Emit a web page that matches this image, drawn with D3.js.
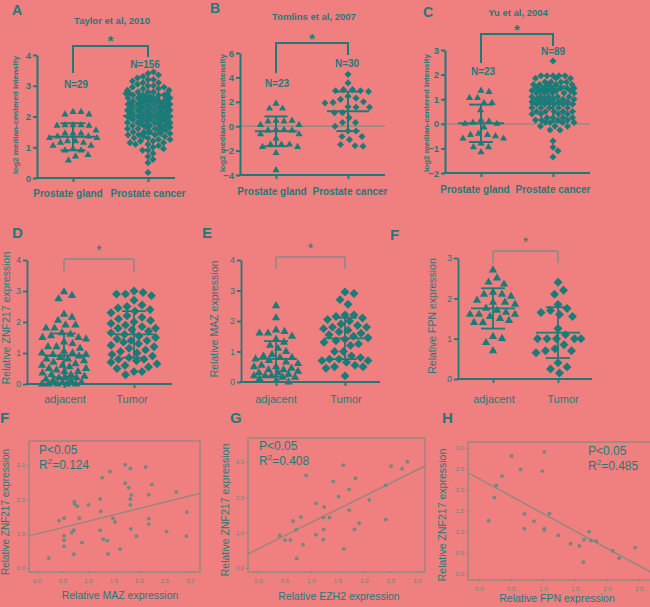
<!DOCTYPE html>
<html><head><meta charset="utf-8">
<script src="https://cdn.jsdelivr.net/npm/d3@7"></script>
<style>
body{margin:0;background:#f08080;}
svg{display:block;font-family:"Liberation Sans",Arial,Helvetica,sans-serif;}
</style>
</head><body>
<svg width="650" height="607"></svg>
<script>
// ================= DATA =================
const catsAC = ['Prostate gland', 'Prostate cancer'];
const catsDF = ['adjacent', 'Tumor'];

// A: Taylor et al, 2010
const taylorGland = [2.15,2.15,2.07,2.07,1.72,1.72,1.72,1.70,1.70,1.55,1.45,1.45,1.45,1.35,1.35,1.30,1.30,1.20,1.20,1.15,1.15,1.05,1.05,0.95,0.90,0.90,0.75,0.70,0.57];
const taylorCancer = [3.40,3.45,3.30,3.35,3.20,3.20,3.25,3.10,3.10,3.15,3.00,3.00,3.05,2.90,2.90,2.95,2.95,
  2.80,2.80,2.80,2.85,2.85,2.70,2.70,2.70,2.70,2.75,2.75,2.75,
  2.60,2.60,2.60,2.60,2.60,2.65,2.65,2.65,2.65,2.50,2.50,2.50,2.50,2.50,2.55,2.55,2.55,2.55,
  2.40,2.40,2.40,2.40,2.40,2.45,2.45,2.45,2.45,2.30,2.30,2.30,2.30,2.30,2.35,2.35,2.35,2.35,
  2.20,2.20,2.20,2.20,2.20,2.25,2.25,2.25,2.25,2.10,2.10,2.10,2.10,2.10,2.15,2.15,2.15,2.15,
  2.00,2.00,2.00,2.00,2.00,2.05,2.05,2.05,2.05,1.90,1.90,1.90,1.90,1.90,1.95,1.95,1.95,1.95,
  1.80,1.80,1.80,1.80,1.85,1.85,1.85,1.85,1.70,1.70,1.70,1.70,1.75,1.75,1.75,1.75,
  1.60,1.60,1.60,1.65,1.65,1.65,1.50,1.50,1.50,1.55,1.55,1.55,1.40,1.40,1.40,1.45,1.45,
  1.30,1.30,1.35,1.35,1.20,1.20,1.25,1.25,1.10,1.10,1.15,1.15,1.00,1.05,0.90,0.90,0.95,
  0.80,0.70,0.60,0.50,0.18];
const taylorMean = [1.34, 2.02];
const taylorSD = [0.44, 0.58];
const taylorN = ['N=29', 'N=156'];

// B: Tomlins et al, 2007
const tomlinsGland = [1.85,1.45,1.45,0.45,0.40,0.40,0.45,0.10,0.10,-0.30,-0.30,-0.35,-0.35,-0.65,-0.65,-1.00,-1.50,-1.50,-1.50,-1.70,-1.70,-2.20,-3.60];
const tomlinsCancer = [4.25,3.55,3.00,3.00,2.90,2.90,2.85,2.45,2.30,2.20,2.00,1.95,1.90,1.60,1.55,1.55,1.10,1.10,0.70,0.30,0.30,0.00,-0.40,-0.40,-0.85,-0.85,-1.10,-1.50,-1.60,-1.65];
const tomlinsMean = [-0.42, 1.22];
const tomlinsSD = [1.22, 1.62];
const tomlinsN = ['N=23', 'N=30'];

// C: Yu et al, 2004
const yuGland = [1.35,1.30,1.05,1.05,0.85,0.85,0.55,0.15,0.10,0.05,0.00,0.00,-0.15,-0.40,-0.45,-0.45,-0.50,-0.60,-0.60,-0.80,-0.95,-0.95,-1.15];
const yuCancer = [2.55,1.95,1.95,1.95,1.95,1.95,1.85,1.85,1.85,1.70,1.70,1.70,1.70,1.60,1.60,1.60,1.60,1.60,
  1.45,1.45,1.45,1.45,1.45,1.45,1.35,1.35,1.35,1.35,1.35,1.25,1.25,1.25,1.25,1.25,1.10,1.10,1.10,1.10,1.10,
  1.00,1.00,1.00,1.00,1.00,0.90,0.90,0.90,0.90,0.90,0.80,0.80,0.80,0.80,0.80,0.65,0.65,0.65,0.65,0.65,
  0.50,0.50,0.50,0.50,0.50,0.40,0.40,0.40,0.40,0.25,0.25,0.25,0.25,0.15,0.15,0.15,0.15,0.05,0.05,0.05,0.05,
  -0.10,-0.10,-0.10,-0.25,-0.25,-0.70,-0.95,-1.10,-1.35];
const yuMean = [0.02, 0.80];
const yuSD = [0.76, 0.72];
const yuN = ['N=23', 'N=89'];

// D: ZNF217
const znfAdj = [2.97,2.85,2.75,2.25,2.15,2.05,1.90,1.90,1.80,1.80,1.65,1.60,1.55,1.50,1.50,1.45,1.35,1.30,1.20,1.20,
  1.15,1.05,1.00,1.00,0.95,0.95,0.90,0.85,0.80,0.80,0.75,0.70,0.65,0.60,0.60,0.55,0.50,0.50,0.45,0.40,
  0.40,0.35,0.30,0.30,0.25,0.20,0.20,0.20,0.15,0.10,0.10,0.05,0.05,0.00,0.00,0.00,0.00,0.00];
const znfTum = [3.00,2.95,2.90,2.90,2.85,2.70,2.55,2.50,2.45,2.40,2.35,2.30,2.20,2.15,2.10,2.05,2.00,1.95,1.90,1.85,
  1.80,1.80,1.75,1.70,1.65,1.60,1.55,1.50,1.45,1.40,1.40,1.35,1.30,1.25,1.20,1.15,1.10,1.05,1.00,0.95,
  0.90,0.85,0.80,0.80,0.75,0.70,0.65,0.60,0.55,0.50,0.40,0.40,0.30];
const znfMean = [0.92, 1.60];
const znfSD = [0.71, 0.75];

// E: MAZ
const mazAdj = [2.50,2.10,1.70,1.65,1.60,1.60,1.50,1.40,1.30,1.20,1.10,1.00,0.90,0.85,0.80,0.80,0.75,0.70,0.65,0.60,
  0.55,0.50,0.50,0.45,0.40,0.40,0.35,0.30,0.30,0.25,0.20,0.20,0.20,0.15,0.15,0.10,0.05,0.00];
const mazTum = [2.95,2.90,2.70,2.55,2.20,2.20,2.15,2.10,2.05,2.00,1.90,1.85,1.80,1.80,1.75,1.70,1.65,1.60,1.55,1.50,
  1.45,1.40,1.35,1.30,1.25,1.20,1.00,1.00,0.85,0.80,0.75,0.75,0.70,0.70,0.65,0.55,0.50,0.50,0.45,0.20];
const mazMean = [0.76, 1.43];
const mazSD = [0.58, 0.68];

// F: FPN
const fpnAdj = [2.70,2.50,2.40,2.35,2.15,2.10,2.10,2.05,1.95,1.90,1.90,1.85,1.75,1.70,1.65,1.60,1.60,1.60,1.55,1.50,1.45,1.40,1.40,1.05,1.00,0.90,0.70];
const fpnTum = [2.40,2.20,2.10,1.85,1.75,1.70,1.65,1.60,1.55,1.25,1.10,1.00,1.00,1.00,1.00,1.00,0.85,0.75,0.70,0.70,0.65,0.40,0.30,0.25,0.15];
const fpnMean = [1.75, 1.15];
const fpnSD = [0.50, 0.63];

// Scatter F: MAZ vs ZNF217
const sFx = [0.23,0.43,0.53,0.53,0.53,0.53,0.68,0.72,0.72,0.73,0.74,0.79,0.83,0.88,1.01,1.24,1.25,1.24,1.28,1.30,1.38,1.39,1.43,1.49,1.53,1.63,1.73,1.73,1.80,1.83,1.83,1.83,1.85,1.84,1.95,2.13,2.19,2.19,2.19,2.25,2.54,2.73,2.94,2.93];
const sFy = [0.29,1.38,1.45,0.94,0.81,0.63,1.03,1.10,0.40,1.93,1.86,1.80,1.45,0.74,1.84,2.01,1.65,1.10,2.63,0.84,0.80,0.41,2.81,1.45,1.34,0.55,3.01,2.47,2.34,2.90,2.01,1.84,2.13,1.14,0.93,2.94,2.13,1.44,1.28,2.43,1.06,2.22,1.63,0.93];
const regF = [0.99, 0.37];   // intercept, slope
// Scatter G: EZH2 vs ZNF217
const sGx = [0.41,0.51,0.61,0.66,0.72,0.73,0.81,0.85,0.91,1.09,1.09,1.23,1.23,1.24,1.25,1.35,1.42,1.52,1.61,1.62,1.72,1.72,1.82,1.84,1.91,2.10,2.41,2.41,2.51,2.72,2.82];
const sGy = [0.92,0.79,0.79,1.33,1.08,0.27,1.44,0.66,2.62,1.83,0.94,1.43,0.81,1.09,1.73,1.43,2.45,2.02,2.91,0.54,2.22,1.64,1.09,2.54,1.27,1.93,1.37,2.34,2.88,2.81,3.01];
const regG = [0.54, 0.745];
// Scatter H: FPN vs ZNF217
const sHx = [0.15,0.24,0.27,0.36,0.51,0.65,0.71,0.71,0.86,0.99,1.02,1.02,1.02,1.10,1.24,1.43,1.57,1.63,1.64,1.72,1.75,1.83,2.09,2.19,2.44];
const sHy = [1.27,1.82,2.11,2.33,2.81,2.49,1.43,1.08,1.26,2.45,2.91,1.08,1.05,1.44,0.92,0.72,0.67,0.28,0.82,1.01,0.80,0.78,0.55,0.38,0.63];
const regH = [2.27, -0.83];

const ticks0to4 = [0,1,2,3,4];
const ticksB = [-4,-2,0,2,4,6];
const ticksC = [-2,-1,0,1,2,3];
const ticks0to3 = [0,1,2,3];
const sTicks3 = [0,0.5,1,1.5,2,2.5,3];
const sTicks3int = [0,1,2,3];
const sTicks25 = [0,0.5,1,1.5,2,2.5];

// ================= DRAWING =================
const TEAL = '#1b7b79';
const DOTGRAY = '#70887f';
const LINEGRAY = '#828a80';
const svg = d3.select('svg');

const diamond = { draw(ctx, size) { const r = Math.sqrt(size / 2);
  ctx.moveTo(0, -r); ctx.lineTo(r, 0); ctx.lineTo(0, r); ctx.lineTo(-r, 0); ctx.closePath(); } };

function swarm(vals, y, cx, d, W) {
  const placed = [];
  const half = W / 2;
  const grid = [0];
  for (let s = 0.5; s <= half; s += 0.5) grid.push(s, -s);
  vals.forEach(v => {
    const py = y(v);
    const near = placed.filter(p => Math.abs(p.y - py) < d);
    let best = 0, bestScore = -1;
    for (const gx of grid) {
      let m = Infinity;
      for (const p of near) { const dd = Math.hypot(p.dx - gx, p.y - py); if (dd < m) m = dd; }
      if (m >= d) { best = gx; break; }
      if (m > bestScore + 1e-9) { bestScore = m; best = gx; }
    }
    placed.push({ v, dx: best, y: py });
  });
  return placed.map(p => ({ v: p.v, x: cx + p.dx, y: p.y }));
}

function dotPanel(o) {
  const g = svg.append('g');
  const y = d3.scaleLinear().domain(o.yDomain).range(o.yRange);
  const x = d3.scalePoint().domain(o.cats).range(o.catX);
  const yb = o.yRange[0];
  const bold = o.bold ? 'bold' : 'normal';

  if (o.zero) {
    g.append('line').attr('x1', o.axisL).attr('x2', o.axisR).attr('y1', y(0)).attr('y2', y(0))
      .attr('stroke', LINEGRAY).attr('stroke-width', 1.2);
  }
  const ya = d3.axisLeft(y).tickValues(o.yTicks).tickSize(o.tickLen).tickSizeOuter(0).tickPadding(2).tickFormat(d3.format('d'));
  const yg = g.append('g').attr('transform', `translate(${o.axisL},0)`).call(ya);
  yg.selectAll('path,line').attr('stroke', TEAL).attr('stroke-width', o.axisW);
  yg.selectAll('text').attr('fill', TEAL).attr('font-size', o.tickFont).attr('font-weight', bold).attr('font-family', null);

  g.append('line').attr('x1', o.axisL - o.axisW / 2).attr('x2', o.axisR).attr('y1', yb).attr('y2', yb)
    .attr('stroke', TEAL).attr('stroke-width', o.axisW);
  const xa = d3.axisBottom(x).tickSize(o.tickLen).tickFormat('');
  const xg = g.append('g').attr('transform', `translate(0,${yb})`).call(xa);
  xg.select('.domain').remove();
  xg.selectAll('line').attr('stroke', TEAL).attr('stroke-width', o.axisW);

  const syms = [d3.symbol(d3.symbolTriangle, o.triSize), d3.symbol(diamond, o.diaSize)];
  o.groups.forEach((vals, gi) => {
    const pts = swarm(vals, y, x(o.cats[gi]), o.collide[gi], o.swarmW[gi]);
    g.append('g').selectAll('path').data(pts).join('path')
      .attr('transform', d => `translate(${d.x},${d.y})`)
      .attr('d', syms[gi]).attr('fill', TEAL);
  });

  // mean +/- SD
  o.cats.forEach((c, gi) => {
    const cx = x(c), m = o.mean[gi], s = o.sd[gi];
    const sg = g.append('g').attr('stroke', TEAL).attr('stroke-width', o.barW);
    sg.append('line').attr('x1', cx - o.meanW / 2).attr('x2', cx + o.meanW / 2).attr('y1', y(m)).attr('y2', y(m));
    sg.append('line').attr('x1', cx).attr('x2', cx).attr('y1', y(m + s)).attr('y2', y(m - s));
    [m + s, m - s].forEach(v => sg.append('line').attr('x1', cx - o.capW / 2).attr('x2', cx + o.capW / 2).attr('y1', y(v)).attr('y2', y(v)));
  });

  // category labels
  o.cats.forEach((c, gi) => {
    g.append('text').attr('x', x(c) + o.labelDx[gi]).attr('y', o.labelY).attr('text-anchor', 'middle')
      .attr('fill', TEAL).attr('font-size', o.labelFont).attr('font-weight', bold).text(c);
  });
  // N labels
  if (o.nText) o.nText.forEach((t, gi) => {
    g.append('text').attr('x', x(o.cats[gi]) + o.nDx[gi]).attr('y', o.nY[gi]).attr('text-anchor', 'middle')
      .attr('fill', TEAL).attr('font-size', 10).attr('font-weight', 'bold').text(t);
  });
  // bracket
  const b = o.bracket;
  g.append('path').attr('d', `M${x(o.cats[0])},${b.l}V${b.top}H${x(o.cats[1])}V${b.r}`)
    .attr('fill', 'none').attr('stroke', b.color).attr('stroke-width', b.w);
  g.append('text').attr('x', (x(o.cats[0]) + x(o.cats[1])) / 2).attr('y', b.starY).attr('text-anchor', 'middle')
    .attr('fill', TEAL).attr('font-size', b.starSize).attr('font-weight', bold).text('*');
  // title
  if (o.title) g.append('text').attr('x', o.title.x).attr('y', o.title.y).attr('text-anchor', 'middle')
    .attr('fill', TEAL).attr('font-size', 9.5).attr('font-weight', 'bold').text(o.title.t);
  // letter
  g.append('text').attr('x', o.letter.x).attr('y', o.letter.y).attr('fill', TEAL)
    .attr('font-size', o.letter.s).attr('font-weight', 'bold').text(o.letter.t);
  // y title
  g.append('text').attr('transform', `translate(${o.yTitle.x},${o.yTitle.y}) rotate(-90)`).attr('text-anchor', 'middle')
    .attr('fill', TEAL).attr('font-size', o.yTitle.s).attr('font-weight', bold).text(o.yTitle.t);
}

const acBase = { bold: true, tickLen: 4, axisW: 2, tickFont: 9.5, labelFont: 10, triSize: 22, diaSize: 25, barW: 2 };
const dfBase = { bold: false, tickLen: 4, axisW: 1.8, tickFont: 9, labelFont: 11, triSize: 30, diaSize: 40, barW: 1.8, labelY: 403, labelDx: [0, 0] };

dotPanel(Object.assign({}, acBase, {
  cats: catsAC, groups: [taylorGland, taylorCancer], mean: taylorMean, sd: taylorSD,
  yDomain: [0, 4], yRange: [178, 55], yTicks: ticks0to4, axisL: 37, axisR: 175, catX: [73, 148],
  collide: [8, 5.5], swarmW: [48, 44], meanW: 50, capW: 25, labelY: 197, labelDx: [-5, 0],
  nText: taylorN, nY: [88, 68], nDx: [3, -3],
  bracket: { l: 73, top: 46, r: 57, color: TEAL, w: 2, starY: 46, starSize: 15 },
  title: { t: 'Taylor et al, 2010', x: 112, y: 24 }, letter: { t: 'A', x: 12, y: 15, s: 14 },
  yTitle: { t: 'log2 median-centered intensity', x: 18, y: 115, s: 8 }
}));
dotPanel(Object.assign({}, acBase, {
  cats: catsAC, groups: [tomlinsGland, tomlinsCancer], mean: tomlinsMean, sd: tomlinsSD, zero: true,
  yDomain: [-4, 6], yRange: [175, 53], yTicks: ticksB, axisL: 240, axisR: 385, catX: [276, 348],
  collide: [8, 8], swarmW: [46, 46], meanW: 42, capW: 23, labelY: 195, labelDx: [-4, 2],
  nText: tomlinsN, nY: [87, 67], nDx: [1, -1],
  bracket: { l: 73, top: 43, r: 55, color: TEAL, w: 2, starY: 44, starSize: 15 },
  title: { t: 'Tomlins et al, 2007', x: 314, y: 20 }, letter: { t: 'B', x: 210, y: 13, s: 14 },
  yTitle: { t: 'log2 median-centered intensity', x: 225, y: 113, s: 8 }
}));
dotPanel(Object.assign({}, acBase, {
  cats: catsAC, groups: [yuGland, yuCancer], mean: yuMean, sd: yuSD, zero: true,
  yDomain: [-2, 3], yRange: [173, 50], yTicks: ticksC, axisL: 445, axisR: 590, catX: [481, 553],
  collide: [8, 6], swarmW: [46, 42], meanW: 46, capW: 24, labelY: 193, labelDx: [-6, 0],
  nText: yuN, nY: [75, 55], nDx: [2, 0],
  bracket: { l: 63, top: 34, r: 46, color: TEAL, w: 2, starY: 35, starSize: 15 },
  title: { t: 'Yu et al, 2004', x: 518, y: 16 }, letter: { t: 'C', x: 423, y: 17, s: 14 },
  yTitle: { t: 'log2 median-centered intensity', x: 429, y: 113, s: 8 }
}));

dotPanel(Object.assign({}, dfBase, {
  cats: catsDF, groups: [znfAdj, znfTum], mean: znfMean, sd: znfSD,
  yDomain: [0, 4], yRange: [384, 260], yTicks: ticks0to4, axisL: 27, axisR: 172, catX: [64, 134],
  collide: [8.5, 9], swarmW: [44, 46], meanW: 40, capW: 24, labelDx: [1, -2],
  bracket: { l: 272, top: 259, r: 272, color: '#4f8f8a', w: 1, starY: 255, starSize: 14 },
  letter: { t: 'D', x: 12, y: 238, s: 15 },
  yTitle: { t: 'Relative ZNF217 expression', x: 10, y: 318, s: 10.5 }
}));
dotPanel(Object.assign({}, dfBase, {
  cats: catsDF, groups: [mazAdj, mazTum], mean: mazMean, sd: mazSD,
  yDomain: [0, 4], yRange: [382, 260], yTicks: ticks0to4, axisL: 241, axisR: 380, catX: [276, 345],
  collide: [8.5, 9], swarmW: [44, 46], meanW: 42, capW: 24, labelDx: [0, 1],
  bracket: { l: 269, top: 257, r: 269, color: '#4f8f8a', w: 1, starY: 253, starSize: 14 },
  letter: { t: 'E', x: 202, y: 238, s: 15 },
  yTitle: { t: 'Relative MAZ expression', x: 218, y: 319, s: 10.5 }
}));
dotPanel(Object.assign({}, dfBase, {
  cats: catsDF, groups: [fpnAdj, fpnTum], mean: fpnMean, sd: fpnSD,
  yDomain: [0, 3], yRange: [379, 258], yTicks: ticks0to3, axisL: 458, axisR: 592, catX: [493, 558],
  collide: [9, 9.5], swarmW: [46, 46], meanW: 44, capW: 24, labelDx: [1, 5],
  bracket: { l: 263, top: 251, r: 263, color: '#4f8f8a', w: 1, starY: 247, starSize: 14 },
  letter: { t: 'F', x: 390, y: 240, s: 15 },
  yTitle: { t: 'Relative FPN expression', x: 436, y: 316, s: 10.5 }
}));

function scatterPanel(o) {
  const g = svg.append('g');
  const [bl, bt, br, bb] = o.box;
  const x = d3.scaleLinear().domain(o.xDomain).range(o.xRange);
  const y = d3.scaleLinear().domain(o.yDomain).range(o.yRange);
  const clipId = 'clip' + o.letter.t;
  g.append('clipPath').attr('id', clipId).append('rect').attr('x', bl).attr('y', bt).attr('width', br - bl).attr('height', bb - bt);

  const fmt = d3.format('.1f');
  const xa = d3.axisBottom(x).tickValues(o.xTicks).tickFormat(fmt).tickSize(2).tickSizeOuter(0).tickPadding(5);
  const xg = g.append('g').attr('transform', `translate(0,${bb})`).call(xa);
  const ya = d3.axisLeft(y).tickValues(o.yTicks).tickFormat(fmt).tickSize(2).tickSizeOuter(0).tickPadding(2);
  const yg = g.append('g').attr('transform', `translate(${bl},0)`).call(ya);
  [xg, yg].forEach(a => {
    a.select('.domain').remove();
    a.selectAll('line').attr('stroke', LINEGRAY);
    a.selectAll('text').attr('fill', '#5f8580').attr('font-size', 6).attr('font-family', null);
  });

  g.append('rect').attr('x', bl).attr('y', bt).attr('width', br - bl).attr('height', bb - bt)
    .attr('fill', 'none').attr('stroke', LINEGRAY).attr('stroke-width', 1.2);

  const x0 = x.invert(bl), x1 = x.invert(br);
  g.append('line').attr('clip-path', `url(#${clipId})`)
    .attr('x1', x(x0)).attr('y1', y(o.reg[0] + o.reg[1] * x0))
    .attr('x2', x(x1)).attr('y2', y(o.reg[0] + o.reg[1] * x1))
    .attr('stroke', LINEGRAY).attr('stroke-width', 1.2);

  g.append('g').selectAll('circle').data(o.xs.map((v, i) => [v, o.ys[i]])).join('circle')
    .attr('cx', d => x(d[0])).attr('cy', d => y(d[1])).attr('r', 1.9).attr('fill', DOTGRAY);

  g.append('text').attr('x', o.stat.x).attr('y', o.stat.y).attr('fill', TEAL).attr('font-size', 12).text('P<0.05');
  const r2 = g.append('text').attr('x', o.stat.x).attr('y', o.stat.y + 15).attr('fill', TEAL).attr('font-size', 12);
  r2.append('tspan').text('R');
  r2.append('tspan').attr('font-size', 8).attr('dy', -5).text('2');
  r2.append('tspan').attr('dy', 5).text('=' + o.r2);

  g.append('text').attr('x', o.xTitle.x).attr('y', o.xTitle.y).attr('text-anchor', 'middle').attr('fill', TEAL)
    .attr('font-size', 10.5).text(o.xTitle.t);
  g.append('text').attr('transform', `translate(${o.yTitle.x},${o.yTitle.y}) rotate(-90)`).attr('text-anchor', 'middle')
    .attr('fill', TEAL).attr('font-size', o.yTitle.s).text('Relative ZNF217 expression');
  g.append('text').attr('x', o.letter.x).attr('y', o.letter.y).attr('fill', TEAL)
    .attr('font-size', 15).attr('font-weight', 'bold').text(o.letter.t);
}

scatterPanel({ box: [29, 441, 200, 572], xDomain: [0, 3], xRange: [37, 190], yDomain: [0, 3], yRange: [568, 465],
  xTicks: sTicks3, yTicks: sTicks3int, xs: sFx, ys: sFy, reg: regF, r2: '0.124',
  stat: { x: 39, y: 454 }, xTitle: { t: 'Relative MAZ expression', x: 120, y: 599 },
  yTitle: { x: 9, y: 512, s: 10 }, letter: { t: 'F', x: 0, y: 423 } });
scatterPanel({ box: [248, 438, 425, 572], xDomain: [0, 3], xRange: [258, 417], yDomain: [0, 3], yRange: [568, 462],
  xTicks: sTicks3, yTicks: sTicks3int, xs: sGx, ys: sGy, reg: regG, r2: '0.408',
  stat: { x: 259, y: 450 }, xTitle: { t: 'Relative EZH2 expression', x: 339, y: 600 },
  yTitle: { x: 229, y: 510, s: 10.5 }, letter: { t: 'G', x: 230, y: 423 } });
scatterPanel({ box: [468, 442, 662, 580], xDomain: [0, 2.5], xRange: [479, 639], yDomain: [0, 3], yRange: [574, 448],
  xTicks: sTicks25, yTicks: sTicks3, xs: sHx, ys: sHy, reg: regH, r2: '0.485',
  stat: { x: 588, y: 455 }, xTitle: { t: 'Relative FPN expression', x: 557, y: 602 },
  yTitle: { x: 446, y: 515, s: 10.5 }, letter: { t: 'H', x: 442, y: 423 } });
</script>
</body></html>
